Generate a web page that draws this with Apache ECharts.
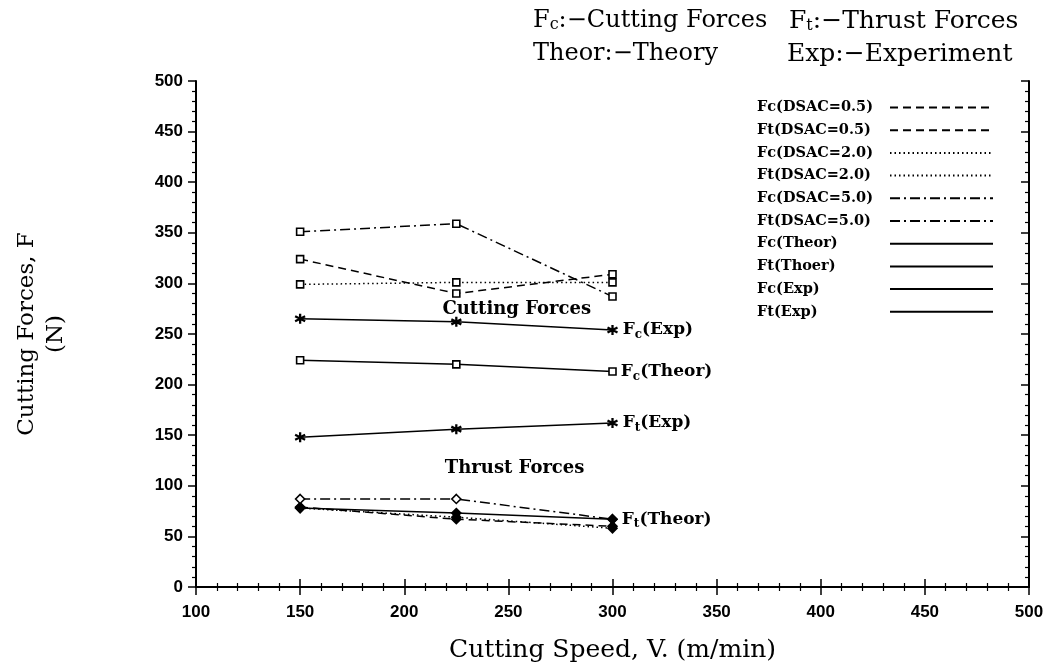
<!DOCTYPE html>
<html>
<head>
<meta charset="utf-8">
<script src="https://cdn.jsdelivr.net/npm/echarts@6/dist/echarts.min.js"></script>
<style>html,body{margin:0;padding:0;background:#fff}#c{width:1051px;height:670px}</style>
</head>
<body>
<div id="c"></div>
<script>
// ---- data ----
const speeds = [150, 225, 300];
const fcDsac05 = [324, 290, 309];
const ftDsac05 = [79, 67, 60];
const fcDsac20 = [299, 301, 301];
const ftDsac20 = [78, 69, 58];
const fcDsac50 = [351, 359, 287];
const ftDsac50 = [87, 87, 67];
const fcTheor = [224, 220, 213];
const ftTheor = [78, 73, 67];
const fcExp = [265, 262, 254];
const ftExp = [148, 156, 162];
const seriesNames = ['Fc(DSAC=0.5)', 'Ft(DSAC=0.5)', 'Fc(DSAC=2.0)', 'Ft(DSAC=2.0)', 'Fc(DSAC=5.0)', 'Ft(DSAC=5.0)', 'Fc(Theor)', 'Ft(Thoer)', 'Fc(Exp)', 'Ft(Exp)'];
const endLabels = {'Fc(Exp)': 'F{s|c}(Exp)', 'Fc(Theor)': 'F{s|c}(Theor)', 'Ft(Exp)': 'F{s|t}(Exp)', 'Ft(Thoer)': 'F{s|t}(Theor)'};
const annotTexts = ['Cutting Forces', 'Thrust Forces'];
const annotX = [254, 253];
const annotY = [274, 117];
const xAxisTitle = 'Cutting Speed, V. (m/min)';
const yAxisTitle = 'Cutting Forces, F\n(N)';

// ---- styles ----
const SERIF = 'DejaVu Serif';
const SANS = 'Liberation Sans';
const asterisk = 'path://M0,-6L0,6M-5.2,-3L5.2,3M-5.2,3L5.2,-3';
const dashed = [8, 5];
const dotted = [1.5, 3];
const dashDot = [10, 4, 2, 4];
const styleFor = {
  'Fc(DSAC=0.5)': {dash: dashed, sym: 'rect', fill: '#fff'},
  'Ft(DSAC=0.5)': {dash: dashed, sym: 'diamond', fill: '#000'},
  'Fc(DSAC=2.0)': {dash: dotted, sym: 'rect', fill: '#fff'},
  'Ft(DSAC=2.0)': {dash: dotted, sym: 'diamond', fill: '#000'},
  'Fc(DSAC=5.0)': {dash: dashDot, sym: 'rect', fill: '#fff'},
  'Ft(DSAC=5.0)': {dash: dashDot, sym: 'diamond', fill: '#fff'},
  'Fc(Theor)': {dash: 'solid', sym: 'rect', fill: '#fff'},
  'Ft(Thoer)': {dash: 'solid', sym: 'diamond', fill: '#000'},
  'Fc(Exp)': {dash: 'solid', sym: asterisk, fill: '#000'},
  'Ft(Exp)': {dash: 'solid', sym: asterisk, fill: '#000'}
};
const valuesFor = {
  'Fc(DSAC=0.5)': fcDsac05, 'Ft(DSAC=0.5)': ftDsac05,
  'Fc(DSAC=2.0)': fcDsac20, 'Ft(DSAC=2.0)': ftDsac20,
  'Fc(DSAC=5.0)': fcDsac50, 'Ft(DSAC=5.0)': ftDsac50,
  'Fc(Theor)': fcTheor, 'Ft(Thoer)': ftTheor,
  'Fc(Exp)': fcExp, 'Ft(Exp)': ftExp
};

const labelStyle = {
  show: true, position: 'right', distance: 4, color: '#000',
  fontFamily: SERIF, fontWeight: 'bold', fontSize: 17, lineHeight: 22,
  rich: {s: {fontFamily: SERIF, fontWeight: 'bold', fontSize: 12, lineHeight: 13, verticalAlign: 'bottom', color: '#000'}}
};

const series = seriesNames.map(function (name) {
  const st = styleFor[name];
  const vals = valuesFor[name];
  const isAst = st.sym === asterisk;
  const data = vals.map(function (v, i) {
    if (i === vals.length - 1 && endLabels[name]) {
      return {value: [speeds[i], v], label: Object.assign({}, labelStyle, {formatter: endLabels[name]})};
    }
    return [speeds[i], v];
  });
  return {
    name: name, type: 'line', data: data,
    symbol: st.sym, symbolSize: isAst ? 10 : (st.sym === 'diamond' ? 9 : 7),
    lineStyle: {color: '#000', width: 1.5, type: st.dash},
    itemStyle: {color: st.fill, borderColor: '#000', borderWidth: isAst ? 2.3 : 1.6},
    emphasis: {disabled: true}, animation: false, z: 3
  };
});
// text annotations placed in data space
series[8].markPoint = {
  symbol: 'rect', symbolSize: 1, itemStyle: {color: 'rgba(0,0,0,0)'},
  animation: false,
  data: annotTexts.map(function (t, i) {
    return {coord: [annotX[i], annotY[i]], label: {show: true, position: 'inside', formatter: t, color: '#000', fontFamily: SERIF, fontWeight: 'bold', fontSize: 18}};
  })
};

const axisLineStyle = {show: true, lineStyle: {color: '#000', width: 2}};
const tickLabelStyle = {color: '#000', fontFamily: SANS, fontWeight: 'bold', fontSize: 17};
function titleText(size) {
  return {fontFamily: SERIF, fontSize: size, fontWeight: 'normal', color: '#000',
    rich: {s: {fontFamily: SERIF, fontSize: Math.round(size * 0.65), lineHeight: 16, verticalAlign: 'bottom', color: '#000'}}};
}

const option = {
  backgroundColor: '#fff',
  animation: false,
  title: [
    {text: 'F{s|c}:−Cutting Forces', left: 528, top: 4, textStyle: titleText(24)},
    {text: 'F{s|t}:−Thrust Forces', left: 784, top: 4, textStyle: titleText(25)},
    {text: 'Theor:−Theory', left: 528, top: 37, textStyle: titleText(24)},
    {text: 'Exp:−Experiment', left: 782, top: 37, textStyle: titleText(25)}
  ],
  legend: {
    data: seriesNames,
    orient: 'vertical', left: 752, top: 95, align: 'right',
    itemWidth: 103, itemHeight: 14, itemGap: 7.7,
    itemStyle: {opacity: 0},
    formatter: '{a|{name}}',
    textStyle: {color: '#000', fontFamily: SERIF, fontWeight: 'bold', fontSize: 14.5,
      rich: {a: {width: 128, align: 'left', fontFamily: SERIF, fontWeight: 'bold', fontSize: 14.5, lineHeight: 14, color: '#000'}}},
    selectedMode: false
  },
  grid: {left: 196, right: 22, top: 81, bottom: 83},
  xAxis: [
    {type: 'value', min: 100, max: 500, interval: 50,
      name: xAxisTitle, nameLocation: 'middle', nameGap: 51,
      nameTextStyle: {fontFamily: SERIF, fontSize: 25, color: '#000'},
      axisLine: axisLineStyle, axisTick: {show: true, length: 8, lineStyle: {color: '#000', width: 1.5}},
      minorTick: {show: true, splitNumber: 5, length: 4, lineStyle: {color: '#000', width: 1.2}},
      axisLabel: Object.assign({margin: 17}, tickLabelStyle),
      splitLine: {show: false}},
    {type: 'value', min: 100, max: 500, interval: 50, position: 'top',
      axisLine: axisLineStyle, axisTick: {show: true, length: 8, lineStyle: {color: '#000', width: 1.5}},
      minorTick: {show: true, splitNumber: 5, length: 4, lineStyle: {color: '#000', width: 1.2}},
      axisLabel: {show: false}, splitLine: {show: false}}
  ],
  yAxis: [
    {type: 'value', min: 0, max: 500, interval: 50,
      name: yAxisTitle, nameLocation: 'middle', nameGap: 125, nameRotate: 90,
      nameTextStyle: {fontFamily: SERIF, fontSize: 23, lineHeight: 29, color: '#000', align: 'center'},
      axisLine: axisLineStyle, axisTick: {show: true, length: 8, lineStyle: {color: '#000', width: 1.5}},
      minorTick: {show: true, splitNumber: 5, length: 4, lineStyle: {color: '#000', width: 1.2}},
      axisLabel: Object.assign({margin: 13}, tickLabelStyle),
      splitLine: {show: false}},
    {type: 'value', min: 0, max: 500, interval: 50, position: 'right',
      axisLine: axisLineStyle, axisTick: {show: true, inside: true, length: 8, lineStyle: {color: '#000', width: 1.5}},
      minorTick: {show: true, splitNumber: 5, length: 4, lineStyle: {color: '#000', width: 1.2}},
      axisLabel: {show: false}, splitLine: {show: false}}
  ],
  series: series
};
const chart = echarts.init(document.getElementById('c'), null, {renderer: 'canvas'});
chart.setOption(option);
</script>
</body>
</html>
